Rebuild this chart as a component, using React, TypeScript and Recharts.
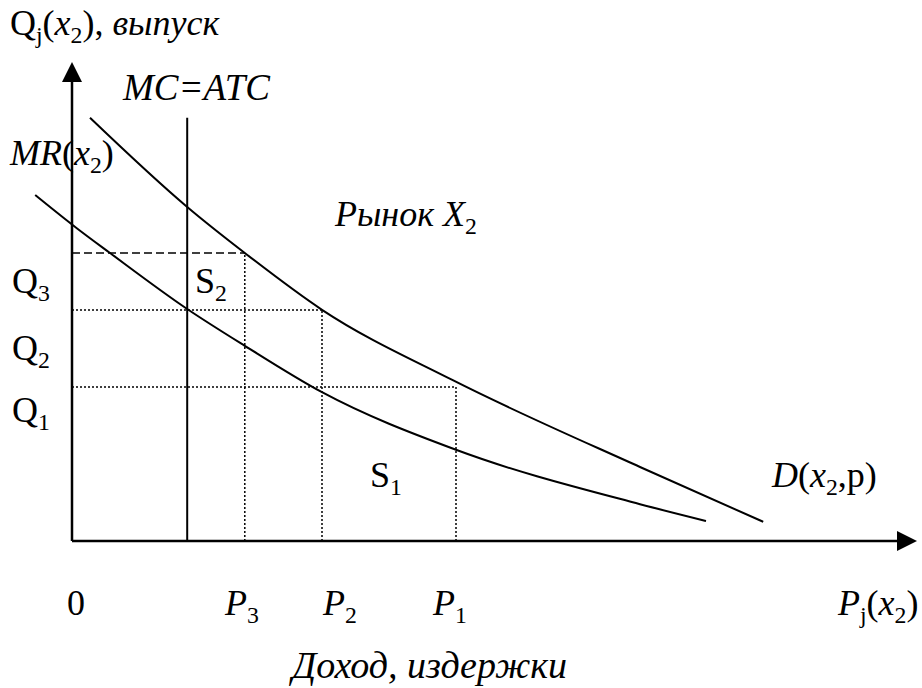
import React from "react";
import {
  ComposedChart,
  Line,
  ReferenceDot,
  ReferenceLine,
  XAxis,
  YAxis,
} from "recharts";

// demand curve D(x2,p)
const demandPrice = [2.25, 14.4, 21.6, 31.25, 47.6, 71, 86.4];
const demandOutput = [52.9, 41.75, 36, 28.9, 20.1, 9.25, 2.4];

// marginal revenue MR(x2)
const mrPrice = [-4.6, 0.6, 4.75, 14.4, 21.6, 31.25, 48, 71, 79.25];
const mrOutput = [43.25, 39.1, 36, 29, 24.4, 18.6, 11.4, 4.6, 2.5];

// P3, P2, P1 and the output levels that go with them
const priceLevels = [21.6, 31.25, 48];
const outputLevels = [36, 28.875, 19.25];

const mcPrice = 14.4;
const mcTop = 52.9;

const demand = demandPrice.map((x, i) => ({ x, y: demandOutput[i] }));
const mr = mrPrice.map((x, i) => ({ x, y: mrOutput[i] }));

const FONT = '"Liberation Serif", "Times New Roman", serif';

type Run = { t: string; i?: boolean; sub?: boolean };

function rich(runs: Run[], size = 36) {
  return (props: any) => {
    let shift = 0;
    return (
      <text x={props.cx} y={props.cy} fontFamily={FONT} fontSize={size} fill="#000">
        {runs.map((r, k) => {
          const target = r.sub ? size * 0.22 : 0;
          const dy = target - shift;
          shift = target;
          return (
            <tspan
              key={k}
              dy={dy}
              fontStyle={r.i ? "italic" : "normal"}
              fontSize={r.sub ? size * 0.66 : size}
            >
              {r.t}
            </tspan>
          );
        })}
      </text>
    );
  };
}

const upArrow = (p: any) => (
  <polygon points={`${p.cx},${p.cy} ${p.cx - 10},${p.cy + 20} ${p.cx + 10},${p.cy + 20}`} fill="#000" />
);
const rightArrow = (p: any) => (
  <polygon points={`${p.cx},${p.cy} ${p.cx - 20},${p.cy - 10} ${p.cx - 20},${p.cy + 10}`} fill="#000" />
);

function Label({ x, y, runs, size }: { x: number; y: number; runs: Run[]; size?: number }) {
  return <ReferenceDot x={x} y={y} r={1} ifOverflow="visible" shape={rich(runs, size)} />;
}

export default function App() {
  const [p3, p2, p1] = priceLevels;
  const [qa, qb, qc] = outputLevels;
  const dotted = { stroke: "#000", strokeWidth: 1.5, strokeDasharray: "2 2", ifOverflow: "visible" as const };
  return (
    <div style={{ position: "absolute", left: 0, top: 0, width: 922, height: 688, background: "#fff" }}>
      <ComposedChart width={922} height={688} margin={{ top: 61, right: 10, bottom: 147, left: 0 }}>
        <XAxis type="number" dataKey="x" domain={[-9, 105]} hide allowDataOverflow />
        <YAxis type="number" domain={[0, 60]} hide allowDataOverflow />

        {/* guide lines */}
        <ReferenceLine segment={[{ x: 0, y: qa }, { x: p3, y: qa }]} stroke="#000" strokeWidth={1.5} strokeDasharray="8 4" ifOverflow="visible" />
        <ReferenceLine segment={[{ x: 0, y: qb }, { x: p2, y: qb }]} {...dotted} />
        <ReferenceLine segment={[{ x: 0, y: qc }, { x: p1, y: qc }]} {...dotted} />
        <ReferenceLine segment={[{ x: p3, y: 0 }, { x: p3, y: qa }]} {...dotted} />
        <ReferenceLine segment={[{ x: p2, y: 0 }, { x: p2, y: qb }]} {...dotted} />
        <ReferenceLine segment={[{ x: p1, y: 0 }, { x: p1, y: qc }]} {...dotted} />

        {/* MC = ATC */}
        <ReferenceLine segment={[{ x: mcPrice, y: 0 }, { x: mcPrice, y: mcTop }]} stroke="#000" strokeWidth={2} ifOverflow="visible" />

        <Line data={demand} dataKey="y" type="monotone" stroke="#000" strokeWidth={2} dot={false} activeDot={false} isAnimationActive={false} />
        <Line data={mr} dataKey="y" type="monotone" stroke="#000" strokeWidth={2} dot={false} activeDot={false} isAnimationActive={false} />

        {/* axes */}
        <ReferenceLine segment={[{ x: 0, y: 0 }, { x: 0, y: 57.6 }]} stroke="#000" strokeWidth={2.5} ifOverflow="visible" />
        <ReferenceLine segment={[{ x: 0, y: 0 }, { x: 103.2, y: 0 }]} stroke="#000" strokeWidth={2.5} ifOverflow="visible" />
        <ReferenceDot x={0} y={59.875} r={1} ifOverflow="visible" shape={upArrow} />
        <ReferenceDot x={105.625} y={0} r={1} ifOverflow="visible" shape={rightArrow} />

        {/* text */}
        <Label x={-7.75} y={63.25} runs={[{ t: "Q" }, { t: "j", sub: true }, { t: "(" }, { t: "x", i: true }, { t: "2", sub: true }, { t: "), " }, { t: "выпуск", i: true }]} />
        <Label x={6.375} y={55.125} size={37} runs={[{ t: "MC=ATC", i: true }]} />
        <Label x={-7.75} y={47} runs={[{ t: "MR", i: true }, { t: "(" }, { t: "x", i: true }, { t: "2", sub: true }, { t: ")" }]} />
        <Label x={32.875} y={39.375} runs={[{ t: "Рынок X", i: true }, { t: "2", sub: true }]} />
        <Label x={-7.5} y={31} runs={[{ t: "Q" }, { t: "3", sub: true }]} />
        <Label x={15.375} y={31} runs={[{ t: "S" }, { t: "2", sub: true }]} />
        <Label x={-7.5} y={22.625} runs={[{ t: "Q" }, { t: "2", sub: true }]} />
        <Label x={-7.5} y={14.875} runs={[{ t: "Q" }, { t: "1", sub: true }]} />
        <Label x={37.25} y={6.75} runs={[{ t: "S" }, { t: "1", sub: true }]} />
        <Label x={87.5} y={6.75} runs={[{ t: "D", i: true }, { t: "(" }, { t: "x", i: true }, { t: "2", sub: true }, { t: ",p)" }]} />
        <Label x={-0.625} y={-9.25} runs={[{ t: "0" }]} />
        <Label x={19.125} y={-9.25} runs={[{ t: "P", i: true }, { t: "3", sub: true }]} />
        <Label x={31.375} y={-9.25} runs={[{ t: "P", i: true }, { t: "2", sub: true }]} />
        <Label x={45.125} y={-9.25} runs={[{ t: "P", i: true }, { t: "1", sub: true }]} />
        <Label x={95.75} y={-9.25} runs={[{ t: "P", i: true }, { t: "j", sub: true }, { t: "(" }, { t: "x", i: true }, { t: "2", sub: true }, { t: ")" }]} />
        <Label x={27.5} y={-17.125} size={38} runs={[{ t: "Доход, издержки", i: true }]} />
      </ComposedChart>
    </div>
  );
}
